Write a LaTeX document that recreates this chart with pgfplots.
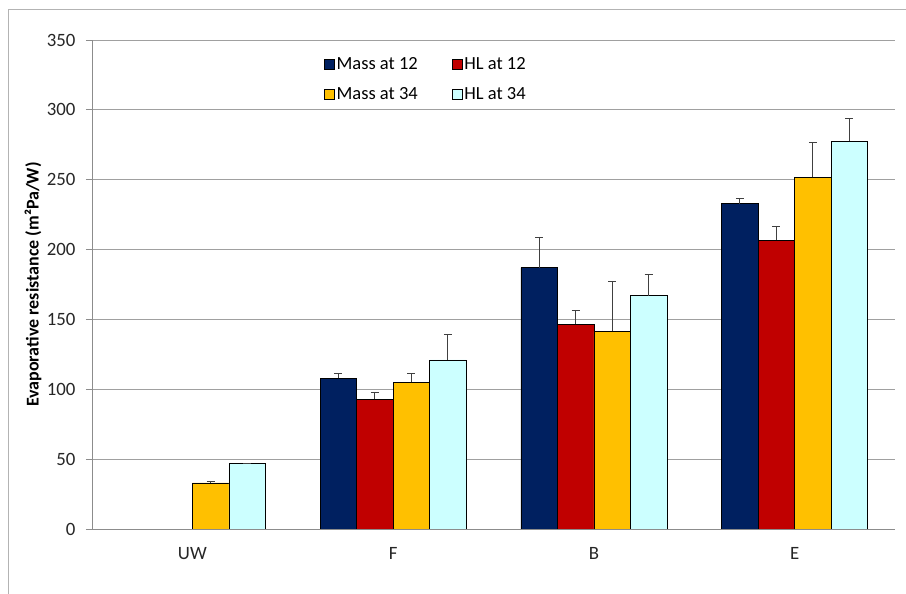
\documentclass[border=0pt]{standalone}
\usepackage{fontspec}
\setmainfont{Carlito}
\usepackage{pgfplots}
\pgfplotsset{compat=1.18}
\definecolor{cNavy}{RGB}{0,32,96}
\definecolor{cRed}{RGB}{192,0,0}
\definecolor{cGold}{RGB}{255,192,0}
\definecolor{cCyan}{RGB}{204,255,255}
\definecolor{cGrid}{RGB}{160,160,160}
\definecolor{cAxis}{RGB}{140,140,140}
\begin{document}
\begin{tikzpicture}
\useasboundingbox (0pt,0pt) rectangle (906pt,594pt);
\draw[cGrid!80, line width=1pt] (8pt,-5pt) -- (8pt,584pt) -- (911pt,584pt);
\begin{axis}[
  at={(92pt,65pt)}, anchor=south west,
  width=803pt, height=489pt, scale only axis,
  xmin=-0.5, xmax=3.5, ymin=0, ymax=350,
  ytick={0,50,...,350},
  xtick={0,1,2,3}, xticklabels={UW,F,B,E},
  extra x ticks={-0.5,0.5,1.5,2.5,3.5}, extra x tick labels={},
  extra x tick style={major tick length=6pt, tick style={cAxis}, tick align=outside, grid=none},
  major x tick style={draw=none},
  ymajorgrids, grid style={cGrid, line width=0.8pt},
  axis x line*=bottom, axis y line*=left,
  axis line style={cAxis, line width=0.8pt},
  y axis line style={-}, x axis line style={-},
  ytick style={cAxis, line width=0.8pt}, tick align=outside, major tick length=6pt,
  yticklabel style={font=\fontsize{18.8}{20}\selectfont, color=black!85, xshift=-7pt},
  xticklabel style={font=\fontsize{18.8}{20}\selectfont, color=black!85, yshift=-9pt},
  /pgf/number format/assume math mode=true,
  ylabel={Evaporative resistance (m²Pa/W)},
  ylabel style={font=\fontsize{18}{20}\selectfont\bfseries, at={(axis description cs:-0.0735,0.5)}, anchor=center},
  ybar, bar width=0.1818,
  legend columns=2,
  legend style={draw=none, fill=none, at={(axis description cs:0.285,0.972)}, anchor=north west,
    font=\fontsize{18.5}{20}\selectfont, /tikz/every even column/.append style={column sep=32pt},
    row sep=12pt},
  legend image code/.code={\draw[#1, draw=black, line width=0.6pt] (0pt,-5pt) rectangle (10pt,5pt);},
  error bars/y dir=plus, error bars/y explicit,
  error bars/error bar style={black!75, line width=0.9pt},
  error bars/error mark options={rotate=90, mark size=4pt, black!75, line width=0.9pt},
]
\addplot[fill=cNavy, draw=black, line width=0.6pt, bar shift=-0.2727] coordinates {(1,108) +- (0,3) (2,187) +- (0,22) (3,232.8) +- (0,3.5)};
\addplot[fill=cRed, draw=black, line width=0.6pt, bar shift=-0.0909] coordinates {(1,93) +- (0,5) (2,146.7) +- (0,10) (3,206.8) +- (0,10)};
\addplot[fill=cGold, draw=black, line width=0.6pt, bar shift=0.0909] coordinates {(0,33) +- (0,0.8) (1,105) +- (0,6.5) (2,141.5) +- (0,35.5) (3,251.7) +- (0,25)};
\addplot[fill=cCyan, draw=black, line width=0.6pt, bar shift=0.2727] coordinates {(0,47) +- (0,0) (1,121) +- (0,18.5) (2,167) +- (0,15) (3,277.5) +- (0,16)};
\legend{Mass at 12, HL at 12, Mass at 34, HL at 34}
\end{axis}
\end{tikzpicture}
\end{document}
